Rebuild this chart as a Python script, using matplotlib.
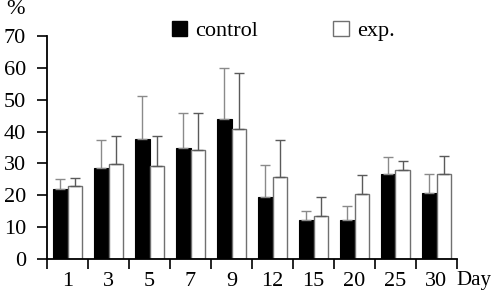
import matplotlib
matplotlib.use("Agg")
import matplotlib.pyplot as plt
import numpy as np
from matplotlib.patches import Patch

days = ["1", "3", "5", "7", "9", "12", "15", "20", "25", "30"]
control = [22.0, 28.7, 37.7, 34.8, 43.9, 19.6, 12.2, 12.2, 26.6, 20.8]
control_top = [25.0, 37.3, 51.3, 45.7, 59.9, 29.4, 15.1, 16.6, 32.1, 26.6]
exp = [22.8, 29.9, 29.2, 34.1, 40.8, 25.6, 13.4, 20.4, 27.8, 26.6]
exp_top = [25.5, 38.6, 38.6, 45.7, 58.3, 37.5, 19.6, 26.4, 30.8, 32.3]
yticks = [0, 10, 20, 30, 40, 50, 60, 70]

plt.rcParams['font.family'] = ['Liberation Serif', 'DejaVu Serif']
FS = 16

W, H = 494, 292
fig = plt.figure(figsize=(W / 100, H / 100), dpi=100)
ax = fig.add_axes([47 / W, 1 - 259 / H, (457 - 47) / W, (259 - 36) / H])

x = np.arange(len(days))
bw = 0.365
c_err = np.array(control_top) - np.array(control)
e_err = np.array(exp_top) - np.array(exp)
ax.bar(x - bw / 2, control, bw, color='black', edgecolor='black', linewidth=0.8,
       yerr=[np.zeros(len(x)), c_err], capsize=3.5,
       error_kw=dict(ecolor='#8a8a8a', elinewidth=1.0, capthick=1.0))
ax.bar(x + bw / 2, exp, bw, color='white', edgecolor='#707070', linewidth=1.0,
       yerr=[np.zeros(len(x)), e_err], capsize=3.5,
       error_kw=dict(ecolor='#5a5a5a', elinewidth=1.0, capthick=1.0))

ax.set_xlim(-0.5, len(days) - 0.5)
ax.set_ylim(0, 70)
ax.set_yticks(yticks)
ax.set_yticklabels([str(v) for v in yticks], fontsize=FS)
ax.set_xticks(np.arange(len(days) + 1) - 0.5)
ax.set_xticklabels([])
ax.set_xticks(x, minor=True)
ax.set_xticklabels(days, minor=True, fontsize=FS)
ax.tick_params(axis='x', which='minor', length=0, pad=9)
ax.tick_params(axis='x', which='major', length=7, width=1.2, direction='out')
ax.tick_params(axis='y', length=7, width=1.2, direction='out', pad=8)
for s in ['top', 'right']:
    ax.spines[s].set_visible(False)
for s in ['left', 'bottom']:
    ax.spines[s].set_linewidth(1.3)

fig.text(491 / W, 1 - 280 / H, "Day", fontsize=15, ha='right', va='center')
fig.text(6 / W, 1 - 9 / H, "%", fontsize=FS, ha='left', va='center')

handles = [Patch(facecolor='black', edgecolor='black', label='control'),
           Patch(facecolor='white', edgecolor='#707070', label='exp.')]
fig.legend(handles=handles, loc='center', bbox_to_anchor=(283 / W, 1 - 31 / H),
           ncol=2, frameon=False, fontsize=FS, handlelength=0.7, handleheight=0.7,
           handletextpad=0.35, columnspacing=3.4, borderpad=0)

fig.savefig("out.png", dpi=100)
